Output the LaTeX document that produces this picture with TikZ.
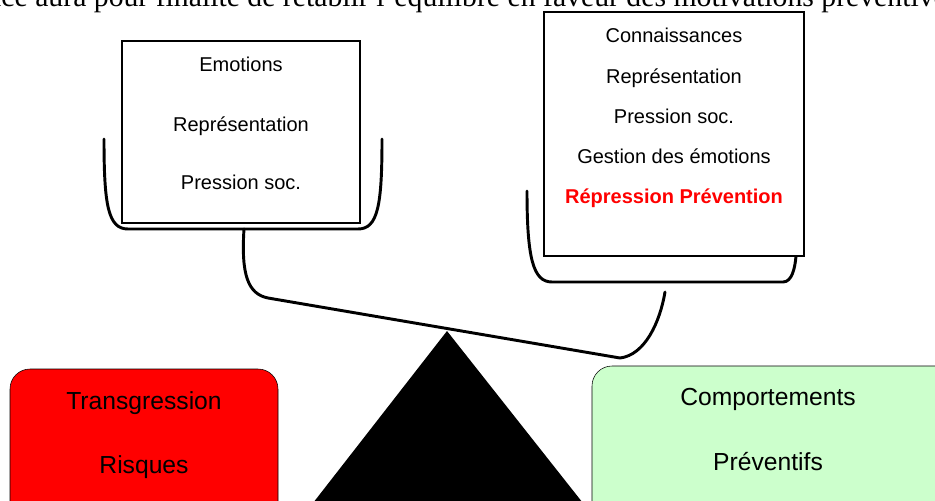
\documentclass[tikz,border=0pt]{standalone}
\usepackage{fontspec}
\setmainfont{Liberation Serif}
\setsansfont{Liberation Sans}
\usepackage{xcolor}
\definecolor{rouge}{RGB}{255,0,0}
\definecolor{vertclair}{RGB}{204,255,204}

\begin{document}
\begin{tikzpicture}[x=0.75pt,y=-0.75pt,
  lbl/.style={anchor=base,inner sep=0pt,font=\sffamily\fontsize{15}{18}\selectfont},
  big/.style={anchor=base,inner sep=0pt,font=\sffamily\fontsize{18.5}{22}\selectfont},
  plate/.style={line width=2.2pt,line cap=round,line join=round},
  boite/.style={draw,line width=1pt,fill=white}]
  \useasboundingbox (0,0) rectangle (935,500);
  \clip (0,0) rectangle (935,500);
  \node[anchor=base west,inner sep=0pt,font=\fontsize{22.3}{26}\selectfont] (phrase) at (35,6.5) {\llap{place }aura pour finalité de rétablir l'équilibre en faveur des motivations préventives};
  % balance
  \fill (447,331) -- (590,512) -- (306,512) -- cycle;
  \draw[plate] (104,139) .. controls (104,205) and (108,229) .. (128,229) -- (358,229) .. controls (378,229) and (382,205) .. (382,139);
  \draw[plate] (527,191) .. controls (527,258) and (533,282) .. (552,282) -- (783,282) .. controls (792,282) and (795,268) .. (796,256);
  \draw[plate] (244,229) .. controls (241,275) and (248,294) .. (268,298) -- (620,358) .. controls (645,355) and (660,322) .. (665,292);
  \draw[boite] (122,41) rectangle (360,223);
  \draw[boite] (544,12) rectangle (804,256);
  \node[lbl] (emo) at (241,71) {Emotions};
  \node[lbl] (repg) at (241,131) {Représentation};
  \node[lbl] (presg) at (241,189) {Pression soc.};
  \node[lbl] (conn) at (674,42) {Connaissances};
  \node[lbl] (repd) at (674,83) {Représentation};
  \node[lbl] (presd) at (674,123) {Pression soc.};
  \node[lbl] (gest) at (674,163) {Gestion des émotions};
  \node[lbl,text=rouge,font=\sffamily\bfseries\fontsize{15}{18}\selectfont] (repr) at (674,203) {Répression Prévention};
  % issues
  \draw[fill=rouge,rounded corners=15pt] (10,369) rectangle (278,530);
  \draw[fill=vertclair,rounded corners=15pt] (592,366) rectangle (970,530);
  \node[big] (trans) at (144,409) {Transgression};
  \node[big] (risq) at (144,473) {Risques};
  \node[big] (comp) at (768,405) {Comportements};
  \node[big] (prev) at (768,470) {Préventifs};
\end{tikzpicture}
\end{document}
